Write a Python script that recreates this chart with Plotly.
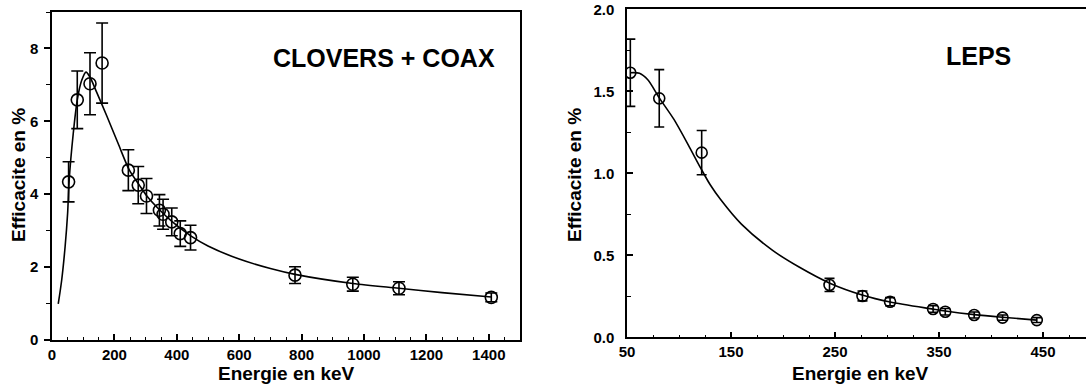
import plotly.graph_objects as go

# ---- CLOVERS + COAX : measured efficiencies ----
clov_energy = [53.2, 81.0, 121.8, 160.6, 244.7, 276.4, 302.9, 344.3, 356.0,
               383.8, 411.1, 444.0, 778.9, 964.1, 1112.1, 1408.0]
clov_eff = [4.34, 6.59, 7.03, 7.60, 4.66, 4.25, 3.95, 3.56, 3.45,
            3.24, 2.92, 2.81, 1.78, 1.53, 1.42, 1.17]
clov_err = [0.55, 0.79, 0.85, 1.10, 0.56, 0.51, 0.48, 0.43, 0.41,
            0.38, 0.35, 0.34, 0.23, 0.19, 0.18, 0.12]

# fitted efficiency curve (sampled)
clov_fit_energy = [20, 31, 42, 50, 55, 68, 81, 95, 109, 122, 143, 175, 212, 248,
                   280, 304, 346, 386, 446, 500, 600, 700, 779, 964, 1112,
                   1250, 1408]
clov_fit_eff = [0.99, 1.64, 2.56, 3.47, 4.38, 5.66, 6.59, 7.12, 7.35, 7.21, 6.80,
                6.16, 5.39, 4.66, 4.25, 3.95, 3.56, 3.24, 2.85, 2.58, 2.22, 1.96,
                1.80, 1.55, 1.42, 1.30, 1.18]

# ---- LEPS : measured efficiencies ----
leps_energy = [53.2, 81.0, 121.8, 244.7, 276.4, 302.9, 344.3, 356.0, 383.8,
               411.1, 444.0]
leps_eff = [1.613, 1.457, 1.126, 0.319, 0.252, 0.217, 0.173, 0.156, 0.136,
            0.120, 0.105]
leps_err = [0.205, 0.175, 0.135, 0.040, 0.030, 0.025, 0.020, 0.020, 0.018,
            0.016, 0.015]

leps_fit_energy = [53, 62, 70, 81, 95, 110, 121, 130, 140, 160, 190, 215, 245,
                   276, 303, 344, 356, 384, 411, 444]
leps_fit_eff = [1.613, 1.61, 1.57, 1.46, 1.33, 1.16, 1.03, 0.93, 0.84, 0.69,
                0.53, 0.43, 0.33, 0.258, 0.215, 0.172, 0.160, 0.138, 0.122,
                0.105]

# tick labels
clov_xticks = [0, 200, 400, 600, 800, 1000, 1200, 1400]
clov_yticks = [0, 2, 4, 6, 8]
leps_xticks = [50, 150, 250, 350, 450]
leps_yticks = [0.0, 0.5, 1.0, 1.5, 2.0]

W, H = 1086, 385
FONT = "Liberation Sans, Arial, sans-serif"
BLACK = "#000000"


def px(x):
    return x / W


def py(y):
    return (H - y) / H


fig = go.Figure()

fig.add_trace(go.Scatter(
    x=clov_fit_energy, y=clov_fit_eff, mode="lines",
    line=dict(color=BLACK, width=1.6, shape="spline", smoothing=0.8),
    xaxis="x", yaxis="y", showlegend=False, hoverinfo="skip"))
fig.add_trace(go.Scatter(
    x=clov_energy, y=clov_eff, mode="markers",
    marker=dict(symbol="circle-open", size=12, color=BLACK, line=dict(width=1.6)),
    error_y=dict(type="data", array=clov_err, visible=True, color=BLACK,
                 thickness=1.6, width=6),
    xaxis="x", yaxis="y", showlegend=False))

fig.add_trace(go.Scatter(
    x=leps_fit_energy, y=leps_fit_eff, mode="lines",
    line=dict(color=BLACK, width=1.6, shape="spline", smoothing=0.8),
    xaxis="x2", yaxis="y2", showlegend=False, hoverinfo="skip"))
fig.add_trace(go.Scatter(
    x=leps_energy, y=leps_eff, mode="markers",
    marker=dict(symbol="circle-open", size=11, color=BLACK, line=dict(width=1.6)),
    error_y=dict(type="data", array=leps_err, visible=True, color=BLACK,
                 thickness=1.6, width=5),
    xaxis="x2", yaxis="y2", showlegend=False))

tickfont = dict(family=FONT, size=15, color=BLACK, weight="bold")
common = dict(showline=True, linecolor=BLACK, linewidth=1.5, showgrid=False,
              zeroline=False, tickcolor=BLACK, tickwidth=1.5, tickfont=tickfont,
              automargin=False)

fig.update_layout(
    width=W, height=H,
    margin=dict(l=0, r=0, t=0, b=0, pad=0),
    paper_bgcolor="white", plot_bgcolor="white",
    xaxis=dict(domain=[px(52), px(520)], range=[0, 1500], anchor="y",
               tickmode="array", tickvals=clov_xticks,
               ticks="inside", ticklen=6, mirror=True,
               ticklabelstandoff=0,
               minor=dict(dtick=50, tick0=0, ticks="inside", ticklen=3,
                          tickcolor=BLACK, tickwidth=1.2),
               **common),
    yaxis=dict(domain=[py(340), py(12)], range=[0, 9], anchor="x",
               tickmode="array", tickvals=clov_yticks,
               ticks="outside", ticklen=6, mirror=True,
               ticklabelstandoff=3,
               minor=dict(dtick=1, tick0=0, ticks="outside", ticklen=4,
                          tickcolor=BLACK, tickwidth=1.2),
               **common),
    xaxis2=dict(domain=[px(627), 1.0], range=[50, 491.3], anchor="y2",
                tickmode="array", tickvals=leps_xticks,
                ticks="inside", ticklen=6, mirror=True,
                ticklabelstandoff=0,
                minor=dict(dtick=25, tick0=50, ticks="inside", ticklen=3,
                           tickcolor=BLACK, tickwidth=1.2),
                **common),
    yaxis2=dict(domain=[py(337.3), py(9.3)], range=[0, 2], anchor="x2",
                tickmode="array", tickvals=leps_yticks,
                ticktext=[f"{v:.1f}" for v in leps_yticks],
                ticks="inside", ticklen=6, mirror=False,
                ticklabelstandoff=8,
                minor=dict(dtick=0.25, tick0=0, ticks="inside", ticklen=4,
                           tickcolor=BLACK, tickwidth=1.2),
                **common),
)

titlefont = dict(family=FONT, size=19, color=BLACK, weight="bold")
labelfont = dict(family=FONT, size=25, color=BLACK, weight="bold")

annotations = [
    dict(text="Energie en keV", x=px(286), y=py(373), font=titlefont),
    dict(text="Energie en keV", x=px(860), y=py(373), font=titlefont),
    dict(text="Efficacite en %", x=px(18.5), y=py(175.5), font=titlefont,
         textangle=-90),
    dict(text="Efficacite en %", x=px(574), y=py(175), font=titlefont,
         textangle=-90),
    dict(text="CLOVERS + COAX", x=px(384), y=py(58), font=labelfont),
    dict(text="LEPS", x=px(978), y=py(56), font=labelfont),
]
for a in annotations:
    fig.add_annotation(xref="paper", yref="paper", showarrow=False,
                       xanchor="center", yanchor="middle", **a)

fig.write_html("out.html")
